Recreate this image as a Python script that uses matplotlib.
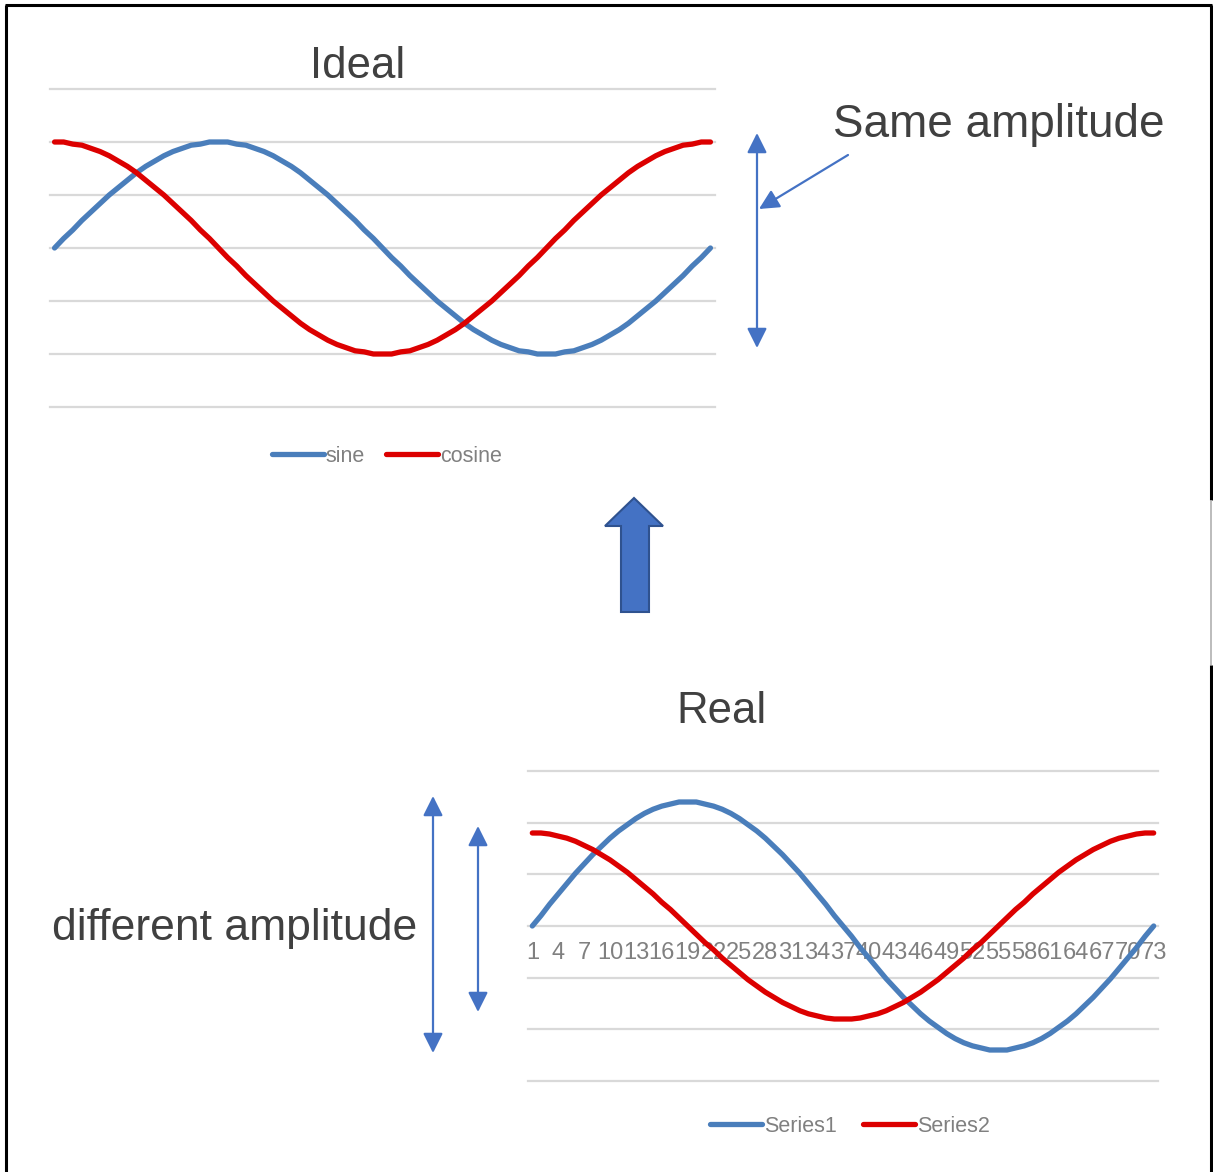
import matplotlib
matplotlib.use('Agg')
import matplotlib.pyplot as plt
from matplotlib.patches import Polygon
import numpy as np

# ---- data (73 points per series) ----
ideal_sine = [0, .09, .17, .26, .34, .42, .5, .57, .64, .71, .77, .82, .87, .91, .94, .97, .98, 1, 1,
              1, .98, .97, .94, .91, .87, .82, .77, .71, .64, .57, .5, .42, .34, .26, .17, .09, 0,
              -.09, -.17, -.26, -.34, -.42, -.5, -.57, -.64, -.71, -.77, -.82, -.87, -.91, -.94, -.97, -.98, -1, -1,
              -1, -.98, -.97, -.94, -.91, -.87, -.82, -.77, -.71, -.64, -.57, -.5, -.42, -.34, -.26, -.17, -.09, 0]
ideal_cosine = [1, 1, .98, .97, .94, .91, .87, .82, .77, .71, .64, .57, .5, .42, .34, .26, .17, .09, 0,
                -.09, -.17, -.26, -.34, -.42, -.5, -.57, -.64, -.71, -.77, -.82, -.87, -.91, -.94, -.97, -.98, -1, -1,
                -1, -.98, -.97, -.94, -.91, -.87, -.82, -.77, -.71, -.64, -.57, -.5, -.42, -.34, -.26, -.17, -.09, 0,
                .09, .17, .26, .34, .42, .5, .57, .64, .71, .77, .82, .87, .91, .94, .97, .98, 1, 1]
real_series1 = [0, .10, .21, .31, .41, .51, .6, .69, .77, .85, .92, .98, 1.04, 1.09, 1.13, 1.16, 1.18, 1.2, 1.2,
                1.2, 1.18, 1.16, 1.13, 1.09, 1.04, .98, .92, .85, .77, .69, .6, .51, .41, .31, .21, .10, 0,
                -.10, -.21, -.31, -.41, -.51, -.6, -.69, -.77, -.85, -.92, -.98, -1.04, -1.09, -1.13, -1.16, -1.18, -1.2, -1.2,
                -1.2, -1.18, -1.16, -1.13, -1.09, -1.04, -.98, -.92, -.85, -.77, -.69, -.6, -.51, -.41, -.31, -.21, -.10, 0]
real_series2 = [.9, .9, .89, .87, .85, .82, .78, .74, .69, .64, .58, .52, .45, .38, .31, .23, .16, .08, 0,
                -.08, -.16, -.23, -.31, -.38, -.45, -.52, -.58, -.64, -.69, -.74, -.78, -.82, -.85, -.87, -.89, -.9, -.9,
                -.9, -.89, -.87, -.85, -.82, -.78, -.74, -.69, -.64, -.58, -.52, -.45, -.38, -.31, -.23, -.16, -.08, 0,
                .08, .16, .23, .31, .38, .45, .52, .58, .64, .69, .74, .78, .82, .85, .87, .89, .9, .9]
categories = [str(i) for i in range(1, 74)]
grid_values = [-1.5, -1.0, -0.5, 0.0, 0.5, 1.0, 1.5]

BLUE = '#4a7ebb'
RED = '#dc0000'
ARROW = '#4472c4'
GRID = '#d9d9d9'
TITLE_C = '#404040'
LEG_C = '#808080'

plt.rcParams['font.family'] = ['Liberation Sans', 'DejaVu Sans']

W, H = 1213, 1172
fig = plt.figure(figsize=(W / 100, H / 100), dpi=100)


def px_axes(x0, y0, x1, y1):
    """axes placed by pixel box (top-left origin)"""
    return fig.add_axes([x0 / W, 1 - y1 / H, (x1 - x0) / W, (y1 - y0) / H])


def style_chart(ax):
    for g in grid_values:
        ax.axhline(g, color=GRID, lw=1.6, zorder=0, clip_on=False)
    ax.set_ylim(-1.5, 1.5)
    ax.set_xlim(-0.5, 72.5)
    for s in ax.spines.values():
        s.set_visible(False)
    ax.set_yticks([])
    ax.patch.set_alpha(0)


x = np.arange(len(categories))

# ---- Ideal chart ----
ax1 = px_axes(50, 89, 715, 407)
style_chart(ax1)
l1, = ax1.plot(x, ideal_sine, color=BLUE, lw=3.8, solid_capstyle='round', label='sine')
l2, = ax1.plot(x, ideal_cosine, color=RED, lw=3.8, solid_capstyle='round', label='cosine')
ax1.set_xticks([])
fig.legend(handles=[l1, l2], loc='center', bbox_to_anchor=(387 / W, 1 - 456 / H),
           ncol=2, frameon=False, fontsize=15.5, labelcolor=LEG_C, handlelength=2.4,
           handletextpad=0.1, columnspacing=1.0)

# ---- Real chart ----
ax2 = px_axes(528, 771, 1158, 1081)
style_chart(ax2)
r1, = ax2.plot(x, real_series1, color=BLUE, lw=3.8, solid_capstyle='round', label='Series1')
r2, = ax2.plot(x, real_series2, color=RED, lw=3.8, solid_capstyle='round', label='Series2')
ax2.spines['bottom'].set_position(('data', 0))
ax2.set_xticks(x[::3])
ax2.set_xticklabels(categories[::3])
ax2.tick_params(axis='x', length=0, pad=11.5, labelsize=17, labelcolor=LEG_C)
fig.legend(handles=[r1, r2], loc='center', bbox_to_anchor=(850 / W, 1 - 1126 / H),
           ncol=2, frameon=False, fontsize=15.5, labelcolor=LEG_C, handlelength=2.4,
           handletextpad=0.1, columnspacing=1.2)

# ---- overlay in pixel coordinates for text, arrows and frame ----
ov = fig.add_axes([0, 0, 1, 1], zorder=-1)
ov.set_xlim(0, W)
ov.set_ylim(H, 0)
ov.axis('off')

ov.text(358, 78, 'Ideal', fontsize=31.5, color=TITLE_C, ha='center', va='baseline')
ov.text(721, 723, 'Real', fontsize=31.5, color=TITLE_C, ha='center', va='baseline')
ov.text(833, 137, 'Same amplitude', fontsize=33, color=TITLE_C, ha='left', va='baseline')
ov.text(52, 940, 'different amplitude', fontsize=32, color=TITLE_C, ha='left', va='baseline')

dbl = dict(arrowstyle='<|-|>,head_length=0.6,head_width=0.3', color=ARROW, lw=1.6,
           mutation_scale=20, shrinkA=0, shrinkB=0)
ov.annotate('', xy=(757, 133), xytext=(757, 348), arrowprops=dbl)
ov.annotate('', xy=(433, 796), xytext=(433, 1053), arrowprops=dbl)
ov.annotate('', xy=(478, 826), xytext=(478, 1012), arrowprops=dbl)
ov.annotate('', xy=(759, 209), xytext=(848, 155),
            arrowprops=dict(arrowstyle='-|>,head_length=0.6,head_width=0.3', color=ARROW,
                            lw=1.6, mutation_scale=20, shrinkA=0, shrinkB=0))

# block arrow pointing up
ov.add_patch(Polygon([(634, 498), (605, 526), (621, 526), (621, 612), (649, 612),
                      (649, 526), (663, 526)], closed=True, facecolor='#4472c4',
                     edgecolor='#2f528f', lw=1.5))

# outer frame
ov.plot([6, 6], [5, H], color='black', lw=2.2, solid_capstyle='butt')
ov.plot([5, 1212], [5, 5], color='black', lw=2.2, solid_capstyle='butt')
ov.plot([1211, 1211], [5, 500], color='black', lw=2.2, solid_capstyle='butt')
ov.plot([1211, 1211], [500, 665], color='#b0b0b0', lw=1.2, solid_capstyle='butt')
ov.plot([1211, 1211], [665, H], color='black', lw=2.2, solid_capstyle='butt')

fig.savefig('out.png', dpi=100)
